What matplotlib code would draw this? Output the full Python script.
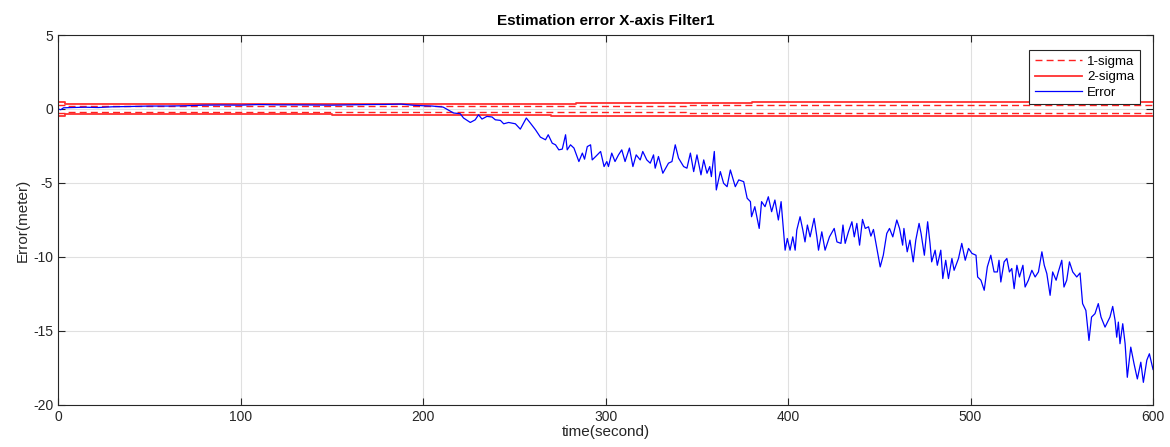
import matplotlib.pyplot as plt

plt.rcParams['font.family'] = ['Liberation Sans', 'DejaVu Sans']
plt.rcParams['axes.unicode_minus'] = False

# error trace (time in s, error in m)
err_t = [0, 1.5, 3, 8, 15, 22, 30, 40, 50, 60, 70, 80, 90, 100, 110, 120, 130, 140,
         150, 160, 170, 180, 188, 195, 200, 205, 211,
         216.7, 220.4, 222.2, 225.9, 228.6, 230.4, 232.3, 235.0, 237.8, 239.6, 242.4,
         244.2, 246.9, 250.6, 253.3, 256.6, 258.8, 261.6, 264.3, 267.1, 268.6, 270.8,
         272.6, 274.4, 276.3, 278.1, 279.0, 280.8, 282.7, 285.4, 287.3, 288.5, 290.0,
         291.8, 292.7, 294.6, 297.3, 299.2, 300.7, 301.6, 303.4, 305.2, 307.1, 308.9,
         310.7, 313.1, 315.0, 316.8, 319.0, 320.4, 322.6,
         324.5, 326.3, 327.2, 329.0, 331.4, 334.5, 336.4, 338.2, 340.0, 342.8, 344.6,
         346.5, 348.3, 350.1, 352.3, 353.8, 355.6, 357.1, 358.0, 359.6, 360.7, 362.9,
         364.7, 366.6, 368.4, 371.1, 373.0, 375.7, 377.6, 379.4, 380.0, 381.8, 384.2,
         385.5, 387.4, 389.2, 391.0, 392.8, 394.7, 396.2, 398.4, 399.6, 401.1, 402.6,
         403.9, 404.8, 406.6, 408.1, 409.3, 410.6, 412.1, 414.3, 415.8, 416.7, 418.5,
         420.3, 422.7, 425.3, 426.8, 429.0, 430.1, 431.3, 433.1, 435.0, 436.3, 437.7,
         439.2, 440.8, 442.3, 444.1, 445.4, 446.8, 448.7, 450.5,
         452.2, 454.1, 455.6, 457.4, 459.6, 461.1, 462.8, 463.5, 465.3, 466.8, 468.6,
         470.0, 471.8, 472.9, 474.7, 476.5, 477.8, 478.7, 480.6, 481.8, 483.7, 484.8,
         486.4, 487.9, 489.8, 491.0, 493.4, 495.2, 497.1, 498.9, 500.8, 503.0, 503.9,
         505.7, 507.5, 509.2, 511.1, 512.9, 514.7, 515.6, 516.6, 518.4, 519.9, 521.3,
         522.6, 523.9, 525.4, 526.8, 528.7, 529.9, 531.7, 533.6, 535.4, 537.2, 539.1,
         540.4, 541.8, 543.6, 545.0, 546.9, 548.1, 550.0, 551.2, 552.7, 554.2, 556.0,
         558.2, 560.0, 561.4, 563.2, 564.9, 566.3, 568.2, 570.0, 571.5, 573.7, 576.4,
         577.9, 579.2, 580.1, 581.0, 581.9, 583.4, 584.7, 585.9, 587.8, 589.6, 591.4,
         593.3, 594.7, 596.6, 598.0, 600.0]
err_val = [0.0, -0.05, 0.08, 0.1, 0.12, 0.1, 0.15, 0.17, 0.2, 0.2, 0.22, 0.26, 0.27, 0.26,
           0.3, 0.28, 0.28, 0.27, 0.26, 0.28, 0.3, 0.31, 0.33, 0.25, 0.22, 0.2, 0.13,
           -0.27, -0.32, -0.61, -0.91, -0.73, -0.39, -0.68, -0.5, -0.54, -0.73, -0.77,
           -1.0, -0.91, -1.0, -1.36, -0.61, -0.95, -1.40, -1.90, -2.08, -1.74, -2.31,
           -2.42, -2.76, -2.71, -1.74, -2.76, -2.42, -2.64, -3.55, -2.98, -3.39, -2.54,
           -2.42, -3.44, -3.21, -2.87, -3.89, -3.55, -3.89, -2.98, -3.55, -3.10, -2.76,
           -3.55, -2.64, -3.89, -3.10, -3.44, -2.87, -3.44,
           -3.66, -3.1, -4.0, -3.21, -4.34, -3.66, -3.55, -2.42, -3.32, -3.89, -4.0,
           -2.98, -4.23, -3.10, -4.45, -3.44, -4.34, -3.89, -4.57, -2.87, -5.47, -4.23,
           -5.02, -5.25, -4.12, -5.25, -4.79, -4.91, -6.03, -6.26, -7.28, -6.6, -8.07,
           -6.26, -6.6, -5.93, -6.94, -6.15, -7.5, -6.26, -9.54, -8.75, -9.54, -8.64,
           -9.54, -8.18, -7.28, -8.18, -8.98, -7.84, -8.64, -7.39, -8.64, -9.54, -8.30,
           -9.54, -8.64, -8.07, -8.98, -9.08, -7.84, -9.08, -8.30, -7.62, -8.64, -7.73,
           -9.2, -7.46, -8.07, -7.96, -8.59, -8.14, -9.42, -10.67,
           -9.88, -8.41, -8.07, -8.64, -7.5, -8.07, -9.2, -8.07, -9.65, -8.86, -10.33,
           -8.86, -7.73, -8.41, -9.88, -7.62, -9.08, -10.33, -9.54, -10.56, -9.54, -11.46,
           -10.22, -11.46, -10.10, -10.9, -10.10, -9.08, -10.22, -9.42, -9.76, -9.88, -11.35,
           -11.57, -12.25, -10.67, -9.88, -11.01, -11.01, -10.22, -11.69, -10.33, -10.10,
           -11.01, -10.78, -12.14, -10.56, -11.35, -10.56, -12.03, -11.57, -10.9, -11.35, -11.01,
           -9.65, -10.56, -11.12, -12.59, -11.01, -11.57, -11.01, -10.22, -12.03, -11.57, -10.33,
           -11.01, -11.35, -11.08, -13.15, -13.61, -15.64, -14.06, -13.83, -13.15, -14.06, -14.74,
           -14.06, -13.34, -14.28, -15.42, -14.40, -15.86, -14.51, -15.86, -18.13, -16.09, -17.22,
           -18.24, -17.11, -18.47, -16.97, -16.54, -17.6]

# sigma bounds, piecewise constant
sig_t = [0, 4, 150, 270, 284, 344, 380, 600]
sig1_up = [0.3, 0.2, 0.21, 0.22, 0.23, 0.24, 0.25, 0.25]
sig1_lo = [-0.3, -0.18, -0.2, -0.2, -0.22, -0.24, -0.26, -0.27]
sig2_up = [0.45, 0.32, 0.33, 0.33, 0.42, 0.42, 0.48, 0.48]
sig2_lo = [-0.45, -0.35, -0.38, -0.44, -0.44, -0.5, -0.5, -0.5]

fig = plt.figure(figsize=(11.7, 4.47), dpi=100)
ax = fig.add_axes([0.0496, 0.094, 0.9359, 0.8277])

ax.plot(sig_t, sig1_up, color='#ff2020', ls=(0, (5, 3)), lw=1.0, drawstyle='steps-post', label='1-sigma')
ax.plot(sig_t, sig1_lo, color='#ff2020', ls=(0, (5, 3)), lw=1.0, drawstyle='steps-post')
ax.plot(sig_t, sig2_up, color='#ff3030', lw=1.3, drawstyle='steps-post', label='2-sigma')
ax.plot(sig_t, sig2_lo, color='#ff3030', lw=1.3, drawstyle='steps-post')
ax.plot(err_t, err_val, color='#0000ff', lw=0.9, label='Error')

ax.set_xlim(0, 600)
ax.set_ylim(-20, 5)
ax.set_xticks(range(0, 601, 100))
ax.set_yticks(range(-20, 6, 5))
ax.grid(True, color='#e0e0e0', lw=0.8)
ax.tick_params(direction='in', top=True, right=True, length=5, labelsize=10, colors='#262626')
for s in ax.spines.values():
    s.set_color('#262626')
    s.set_linewidth(0.8)

ax.set_title('Estimation error X-axis Filter1', fontsize=11, fontweight='bold', pad=7)
ax.set_xlabel('time(second)', fontsize=11, labelpad=1, color='#262626')
ax.set_ylabel('Error(meter)', fontsize=11, labelpad=2, color='#262626')

leg = ax.legend(loc='upper right', bbox_to_anchor=(0.988, 0.959), fontsize=9.5, fancybox=False,
                edgecolor='#262626', framealpha=1, handlelength=3.6, handletextpad=0.4,
                borderpad=0.4, labelspacing=0.25, borderaxespad=0)
leg.get_frame().set_linewidth(0.8)

fig.savefig('out.png', dpi=100)
